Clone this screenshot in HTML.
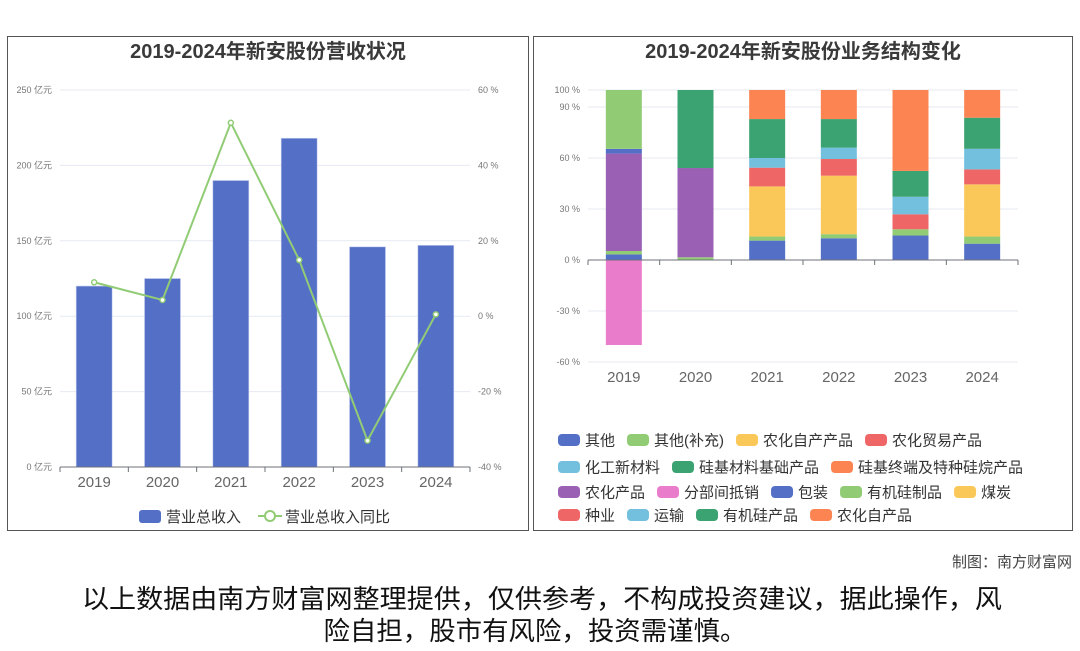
<!DOCTYPE html>
<html><head><meta charset="utf-8"><style>
body{margin:0;background:#fff;width:1080px;height:646px;overflow:hidden;font-family:"Liberation Sans","Noto Sans CJK SC",sans-serif}
svg text{font-family:"Liberation Sans","Noto Sans CJK SC",sans-serif}
</style></head><body>
<svg id="s" width="1080" height="646">
<rect x="7.5" y="36.5" width="521" height="494" fill="none" stroke="#555"/>
<rect x="533.5" y="36.5" width="539" height="494" fill="none" stroke="#555"/>
<text x="268" y="58" text-anchor="middle" font-size="20" font-weight="bold" fill="#3a3a3a">2019-2024年新安股份营收状况</text>
<text x="803" y="58" text-anchor="middle" font-size="20" font-weight="bold" fill="#3a3a3a">2019-2024年新安股份业务结构变化</text>
<g id="L"></g><g id="R"></g>
<text x="1072" y="567" text-anchor="end" font-size="15" fill="#444">制图：南方财富网</text>
<text x="542" y="608" text-anchor="middle" font-size="26" textLength="920" lengthAdjust="spacingAndGlyphs" fill="#111">以上数据由南方财富网整理提供，仅供参考，不构成投资建议，据此操作，风</text>
<text x="535" y="640" text-anchor="middle" font-size="26" textLength="423" lengthAdjust="spacingAndGlyphs" fill="#111">险自担，股市有风险，投资需谨慎。</text>
</svg>
<script>
const years=['2019','2020','2021','2022','2023','2024'];
const revenue=[120,125,190,218,146,147];
const growth=[9.0,4.3,51.3,14.9,-33,0.5];
const leftTicks=[0,50,100,150,200,250];
const rightTicks=[-40,-20,0,20,40,60];
const segNames=['其他','其他(补充)','农化自产产品','农化贸易产品','化工新材料','硅基材料基础产品','硅基终端及特种硅烷产品','农化产品','分部间抵销','包装','有机硅制品','煤炭','种业','运输','有机硅产品','农化自产品'];
const segColors=['#5470c6','#91cc75','#fac858','#ee6666','#73c0de','#3ba272','#fc8452','#9a60b4','#ea7ccc','#5470c6','#91cc75','#fac858','#ee6666','#73c0de','#3ba272','#fc8452'];
const s其他=[3.3,0,11.4,12.8,14.4,9.6];
const s其他补充=[2,1.6,2.4,2.4,3.7,4.2];
const s农化自产产品=[0,0,29.5,34.4,0,30.7];
const s农化贸易产品=[0,0,11,9.8,8.8,8.8];
const s化工新材料=[0,0,5.7,6.7,10.3,12.1];
const s硅基材料基础=[0,0,22.9,16.8,15.2,18.3];
const s硅基终端=[0,0,17.1,17.1,47.6,16.3];
const s农化产品=[57.3,52.5,0,0,0,0];
const s分部间抵销=[-50,0,0,0,0,0];
const s包装=[2.8,0,0,0,0,0];
const s有机硅制品=[34.6,0,0,0,0,0];
const s有机硅产品=[0,45.9,0,0,0,0];
const segData=[s其他,s其他补充,s农化自产产品,s农化贸易产品,s化工新材料,s硅基材料基础,s硅基终端,s农化产品,s分部间抵销,s包装,s有机硅制品,[0,0,0,0,0,0],[0,0,0,0,0,0],[0,0,0,0,0,0],s有机硅产品,[0,0,0,0,0,0]];
const pctTicks=[-60,-30,0,30,60,90,100];
const NS='http://www.w3.org/2000/svg';
function mk(p,t,a,txt){const e=document.createElementNS(NS,t);for(const k in a)e.setAttribute(k,a[k]);if(txt!==undefined)e.textContent=txt;p.appendChild(e);return e;}
const L=document.getElementById('L');
const lx0=60,lx1=470,ly0=467,ly1=90;
const yL=v=>ly0-(v/250)*(ly0-ly1);
const yR=v=>ly0-((v+40)/100)*(ly0-ly1);
const bw=(lx1-lx0)/years.length;
const xL=i=>lx0+bw*(i+0.5);
leftTicks.forEach(t=>{let g=mk(L,'line',{x1:lx0,x2:lx1,y1:yL(t),y2:yL(t),stroke:'#e6e9f2'});
let e=mk(L,'text',{x:52,y:yL(t)+3,'text-anchor':'end','font-size':9,fill:'#777'},t+' 亿元');});
rightTicks.forEach(t=>{let e=mk(L,'text',{x:478,y:yR(t)+3,'font-size':9,fill:'#777'},t+' %');});
revenue.forEach((v,i)=>{let r=mk(L,'rect',{x:xL(i)-18,y:yL(v),width:36,height:ly0-yL(v),fill:'#5470c6',stroke:'#c9d0f0','stroke-width':0.6});});
mk(L,'line',{x1:lx0,x2:lx1,y1:ly0,y2:ly0,stroke:'#6e7079'});
years.forEach((y,i)=>{mk(L,'line',{x1:lx0+bw*i,x2:lx0+bw*i,y1:ly0,y2:ly0+5,stroke:'#6e7079'});
let e=mk(L,'text',{x:xL(i),y:487,'text-anchor':'middle','font-size':15,fill:'#666'},y);});
mk(L,'line',{x1:lx1,x2:lx1,y1:ly0,y2:ly0+5,stroke:'#6e7079'});
let ln=mk(L,'polyline',{points:growth.map((v,i)=>xL(i)+','+yR(v)).join(' '),fill:'none',stroke:'#91cc75','stroke-width':2});

growth.forEach((v,i)=>{let c=mk(L,'circle',{cx:xL(i),cy:yR(v),r:2.5,fill:'#fff',stroke:'#91cc75','stroke-width':1.5});});
let lg1=mk(L,'rect',{x:139,y:510,width:22,height:13,rx:3,fill:'#5470c6'});
mk(L,'text',{x:166,y:522,'font-size':15,fill:'#333'},'营业总收入');
mk(L,'line',{x1:258,x2:282,y1:516,y2:516,stroke:'#91cc75','stroke-width':2});
let lg2=mk(L,'circle',{cx:270,cy:516,r:5,fill:'#fff',stroke:'#91cc75','stroke-width':2});
mk(L,'text',{x:285,y:522,'font-size':15,fill:'#333'},'营业总收入同比');
const R=document.getElementById('R');
const rx0=588,rx1=1018,r0=260,perPct=1.7;
const yP=v=>r0-v*perPct;
const rbw=(rx1-rx0)/years.length;
const xR=i=>rx0+rbw*(i+0.5);
pctTicks.forEach(t=>{let g=mk(R,'line',{x1:rx0,x2:rx1,y1:yP(t),y2:yP(t),stroke:'#e6e9f2'});
let e=mk(R,'text',{x:580,y:yP(t)+3,'text-anchor':'end','font-size':9,fill:'#777'},t+' %');});
years.forEach((y,i)=>{let pos=0,neg=0;
segData.forEach((arr,k)=>{const v=arr[i];if(!v)return;let top,bot;
if(v>0){bot=pos;pos+=v;top=pos;}else{top=neg;neg+=v;bot=neg;}
let r=mk(R,'rect',{x:xR(i)-18,y:yP(top),width:36,height:(top-bot)*perPct,fill:segColors[k]});
});});
mk(R,'line',{x1:rx0,x2:rx1,y1:r0,y2:r0,stroke:'#6e7079'});
years.forEach((y,i)=>{mk(R,'line',{x1:rx0+rbw*i,x2:rx0+rbw*i,y1:r0,y2:r0+5,stroke:'#6e7079'});
let e=mk(R,'text',{x:xR(i),y:382,'text-anchor':'middle','font-size':15,fill:'#666'},y);});
mk(R,'line',{x1:rx1,x2:rx1,y1:r0,y2:r0+5,stroke:'#6e7079'});
const rows=[[0,1,2,3],[4,5,6],[7,8,9,10,11],[12,13,14,15]];
const rowY=[440,467,492,515];
rows.forEach((row,ri)=>{let x=558;row.forEach(k=>{
let r=mk(R,'rect',{x:x,y:rowY[ri]-6,width:22,height:12,rx:4,fill:segColors[k]});
let t=mk(R,'text',{x:x+27,y:rowY[ri]+5.5,'font-size':15,fill:'#333'},segNames[k]);
x+=27+t.getComputedTextLength()+12;});});
</script>
</body></html>
